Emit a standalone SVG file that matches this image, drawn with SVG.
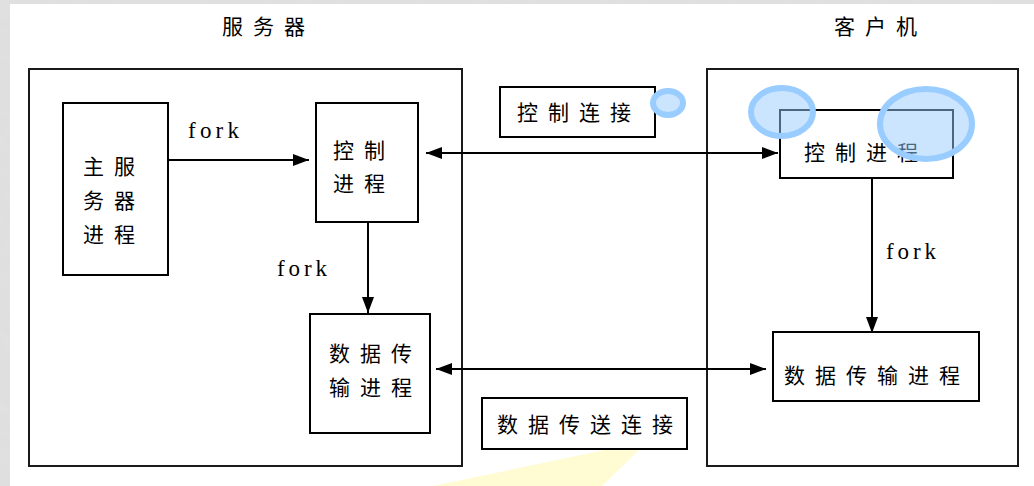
<svg xmlns="http://www.w3.org/2000/svg" width="1034" height="486" viewBox="0 0 1034 486">
  <defs>
    <style>
      .box { fill: #ffffff; stroke: #000000; stroke-width: 2; }
      .frame { fill: none; stroke: #1a1a1a; stroke-width: 2; }
      .cjk { font-family: "Noto Sans CJK SC", "Noto Sans CJK JP", sans-serif; font-size: 21px; fill: #000000; letter-spacing: 10px; }
      .lat { font-family: "Liberation Serif", serif; font-size: 23px; fill: #000000; }
      .line { stroke: #000000; stroke-width: 2; fill: none; }
      .mark { fill: none; stroke: #99ccff; stroke-width: 6; }
      .hl { fill: #99ccff; fill-opacity: 0.5; }
    </style>
    <marker id="ah" viewBox="0 0 16 12" refX="16" refY="6" markerWidth="16" markerHeight="12" markerUnits="userSpaceOnUse" orient="auto-start-reverse">
      <path d="M0,0 L16,6 L0,12 Z" fill="#000000"/>
    </marker>
    <filter id="tex" x="0" y="0" width="100%" height="100%">
      <feTurbulence type="fractalNoise" baseFrequency="0.08" numOctaves="3" seed="4"/>
      <feColorMatrix type="matrix" values="0 0 0 0 0.75  0 0 0 0 0.75  0 0 0 0 0.75  0 0 0 -1.2 1.1"/>
    </filter>
  </defs>

  <!-- background -->
  <rect x="0" y="0" width="1034" height="486" fill="#dedede"/>
  <rect x="0" y="0" width="1034" height="486" filter="url(#tex)"/>
  <rect x="10" y="4" width="1024" height="482" fill="#ffffff"/>

  <!-- yellow light beam -->
  <polygon points="648,441 433,486 602,486" fill="#fffbd2"/>

  <!-- titles -->
  <g id="title-server"><text class="cjk" x="222" y="34">服务器</text></g>
  <g id="title-client"><text class="cjk" x="834" y="34">客户机</text></g>

  <!-- outer frames -->
  <g id="server"><rect class="frame" x="29" y="69" width="433" height="397"/></g>
  <g id="client"><rect class="frame" x="707" y="69" width="311" height="397"/></g>

  <!-- connectors -->
  <g id="connectors">
    <line class="line" x1="168" y1="160" x2="309" y2="160" marker-end="url(#ah)"/>
    <line class="line" x1="368" y1="222" x2="368" y2="313" marker-end="url(#ah)"/>
    <line class="line" x1="872" y1="178" x2="872" y2="333" marker-end="url(#ah)"/>
    <line class="line" x1="426" y1="153" x2="778" y2="153" marker-start="url(#ah)" marker-end="url(#ah)"/>
    <line class="line" x1="436" y1="369" x2="766" y2="369" marker-start="url(#ah)" marker-end="url(#ah)"/>
    <text class="lat" x="188" y="138" textLength="51" lengthAdjust="spacing">fork</text>
    <text class="lat" x="277" y="276" textLength="50" lengthAdjust="spacing">fork</text>
    <text class="lat" x="886" y="259" textLength="50" lengthAdjust="spacing">fork</text>
  </g>

  <!-- server nodes -->
  <g id="main-server-process">
    <rect class="box" x="63" y="103" width="105" height="172"/>
    <text class="cjk" x="83" y="174">主服</text>
    <text class="cjk" x="83" y="208">务器</text>
    <text class="cjk" x="83" y="242">进程</text>
  </g>
  <g id="server-control-process">
    <rect class="box" x="316" y="103" width="102" height="119"/>
    <text class="cjk" x="333" y="158">控制</text>
    <text class="cjk" x="333" y="191">进程</text>
  </g>
  <g id="server-data-process">
    <rect class="box" x="310" y="314" width="120" height="119"/>
    <text class="cjk" x="329" y="361">数据传</text>
    <text class="cjk" x="329" y="395">输进程</text>
  </g>

  <!-- connection labels -->
  <g id="control-connection">
    <rect class="box" x="500" y="87" width="155" height="50"/>
    <text class="cjk" x="517" y="120">控制连接</text>
  </g>
  <g id="data-connection">
    <rect class="box" x="482" y="398" width="205" height="51"/>
    <text class="cjk" x="497" y="432">数据传送连接</text>
  </g>

  <!-- client nodes -->
  <g id="client-control-process">
    <rect class="box" x="780" y="110" width="173" height="68"/>
    <text class="cjk" x="804" y="160">控制进程</text>
  </g>
  <g id="client-data-process">
    <rect class="box" x="773" y="332" width="206" height="69"/>
    <text class="cjk" x="784" y="383">数据传输进程</text>
  </g>

  <!-- highlight marks -->
  <g id="highlights">
    <ellipse class="hl" cx="668" cy="103" rx="15" ry="12"/>
    <ellipse class="mark" cx="668" cy="103" rx="15" ry="12" stroke-width="5"/>
    <ellipse class="hl" cx="782" cy="112" rx="31" ry="24"/>
    <ellipse class="mark" cx="782" cy="112" rx="31" ry="24"/>
    <ellipse class="hl" cx="926" cy="124" rx="46" ry="35"/>
    <ellipse class="mark" cx="926" cy="124" rx="46" ry="35"/>
  </g>
</svg>
